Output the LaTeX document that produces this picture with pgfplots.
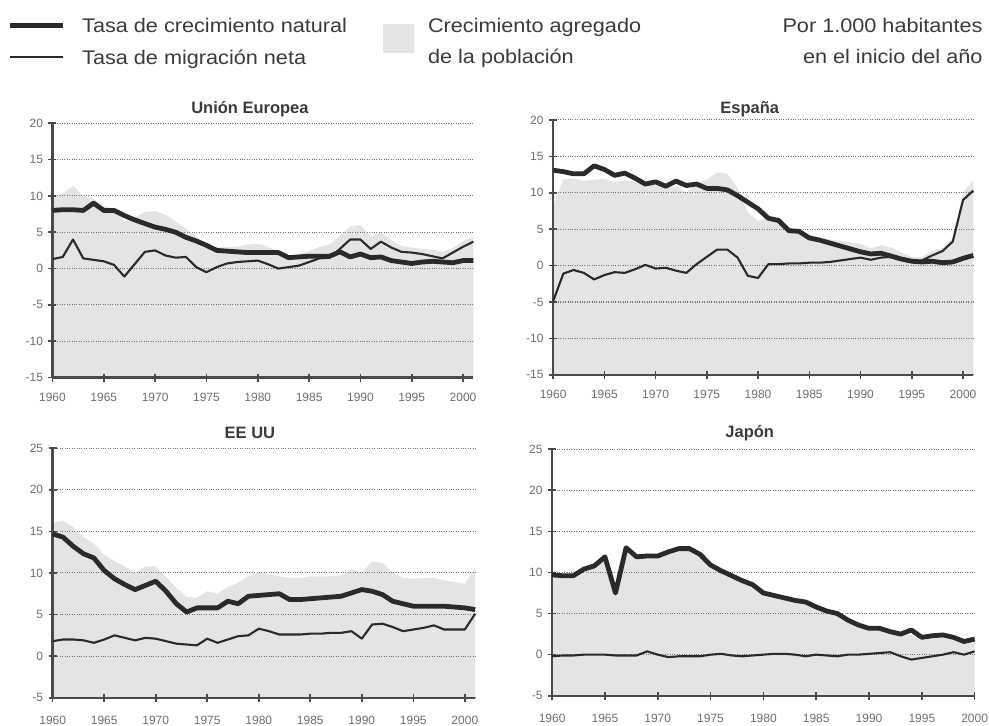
\documentclass[border=0pt]{standalone}
\usepackage{fontspec}
\setmainfont{Liberation Sans}
\newfontfamily\legfont[FakeStretch=1.1]{Liberation Sans}
\usepackage{pgfplots}
\usepackage{pgfplotstable}
\pgfplotsset{compat=1.18}

\definecolor{shadecol}{HTML}{E4E4E4}
\definecolor{linecol}{HTML}{2A2A2A}
\definecolor{axiscol}{HTML}{4A4A4A}
\definecolor{labcol}{HTML}{6E6E6E}
\definecolor{txtcol}{HTML}{3A3A3A}

% year  natural  migration
\pgfplotstableread{
year nat mig
1960 8.0 1.3
1961 8.1 1.6
1962 8.1 4.0
1963 8.0 1.4
1964 9.0 1.2
1965 8.0 1.0
1966 8.0 0.5
1967 7.3 -1.1
1968 6.7 0.6
1969 6.2 2.3
1970 5.7 2.5
1971 5.4 1.8
1972 5.0 1.5
1973 4.3 1.6
1974 3.8 0.2
1975 3.2 -0.5
1976 2.5 0.2
1977 2.4 0.7
1978 2.3 0.9
1979 2.2 1.0
1980 2.2 1.1
1981 2.2 0.6
1982 2.2 0.0
1983 1.5 0.2
1984 1.6 0.4
1985 1.7 0.9
1986 1.7 1.4
1987 1.7 1.5
1988 2.3 2.7
1989 1.6 4.0
1990 2.0 4.0
1991 1.5 2.7
1992 1.6 3.7
1993 1.1 2.9
1994 0.9 2.3
1995 0.7 2.2
1996 0.9 2.0
1997 1.0 1.7
1998 0.9 1.4
1999 0.8 2.2
2000 1.1 3.0
2001 1.1 3.7
}\ue

\pgfplotstableread{
year nat mig
1960 13.1 -4.9
1961 12.9 -1.1
1962 12.6 -0.6
1963 12.6 -1.0
1964 13.7 -1.9
1965 13.2 -1.3
1966 12.4 -0.9
1967 12.7 -1.0
1968 12.0 -0.5
1969 11.2 0.1
1970 11.5 -0.4
1971 10.9 -0.3
1972 11.6 -0.7
1973 11.0 -1.0
1974 11.2 0.2
1975 10.6 1.2
1976 10.6 2.2
1977 10.4 2.2
1978 9.6 1.1
1979 8.7 -1.4
1980 7.8 -1.7
1981 6.5 0.2
1982 6.2 0.2
1983 4.8 0.3
1984 4.7 0.3
1985 3.8 0.4
1986 3.5 0.4
1987 3.1 0.5
1988 2.7 0.7
1989 2.3 0.9
1990 1.9 1.1
1991 1.6 0.8
1992 1.7 1.1
1993 1.3 1.2
1994 0.9 0.9
1995 0.6 0.6
1996 0.5 0.7
1997 0.6 1.4
1998 0.4 2.0
1999 0.5 3.3
2000 1.0 9.0
2001 1.4 10.3
}\es

\pgfplotstableread{
year nat mig
1960 14.7 1.8
1961 14.3 2.0
1962 13.2 2.0
1963 12.3 1.9
1964 11.8 1.6
1965 10.3 2.0
1966 9.3 2.5
1967 8.6 2.2
1968 8.0 1.9
1969 8.5 2.2
1970 9.0 2.1
1971 7.8 1.8
1972 6.3 1.5
1973 5.3 1.4
1974 5.8 1.3
1975 5.8 2.1
1976 5.8 1.6
1977 6.6 2.0
1978 6.3 2.4
1979 7.2 2.5
1980 7.3 3.3
1981 7.4 3.0
1982 7.5 2.6
1983 6.8 2.6
1984 6.8 2.6
1985 6.9 2.7
1986 7.0 2.7
1987 7.1 2.8
1988 7.2 2.8
1989 7.6 3.0
1990 8.0 2.1
1991 7.8 3.8
1992 7.4 3.9
1993 6.6 3.5
1994 6.3 3.0
1995 6.0 3.2
1996 6.0 3.4
1997 6.0 3.7
1998 6.0 3.2
1999 5.9 3.2
2000 5.8 3.2
2001 5.6 5.1
}\us

\pgfplotstableread{
year nat mig
1960 9.7 -0.2
1961 9.6 -0.1
1962 9.6 -0.1
1963 10.4 0.0
1964 10.8 0.0
1965 11.9 0.0
1966 7.5 -0.1
1967 13.0 -0.1
1968 11.9 -0.1
1969 12.0 0.4
1970 12.0 0.0
1971 12.5 -0.3
1972 12.9 -0.2
1973 12.9 -0.2
1974 12.2 -0.2
1975 10.9 0.0
1976 10.2 0.1
1977 9.6 -0.1
1978 9.0 -0.2
1979 8.5 -0.1
1980 7.5 0.0
1981 7.2 0.1
1982 6.9 0.1
1983 6.6 0.0
1984 6.4 -0.2
1985 5.8 0.0
1986 5.3 -0.1
1987 5.0 -0.2
1988 4.2 0.0
1989 3.6 0.0
1990 3.2 0.1
1991 3.2 0.2
1992 2.8 0.3
1993 2.5 -0.2
1994 3.0 -0.6
1995 2.1 -0.4
1996 2.3 -0.2
1997 2.4 0.0
1998 2.1 0.3
1999 1.6 0.0
2000 1.9 0.4
}\jp

\pgfplotsset{
  panel/.style={
    scale only axis,
    set layers=standard,
    axis lines*=left,
    axis line style={draw=axiscol, line width=2.4pt},
    tick style={draw=axiscol, line width=1.6pt},
    major tick length=8pt,
    tick align=center,
    xmin=1960, xmax=2001,
    xtick={1960,1965,...,2000},
    ymajorgrids,
    grid style={draw=black!55, dotted, line width=1.1pt},
    enlargelimits=false,
    clip=false,
    /pgf/number format/assume math mode=true,
    /pgf/number format/1000 sep={},
    tick label style={font=\fontsize{12}{12}\selectfont, text=labcol},
    xticklabel style={yshift=-8pt},
    yticklabel style={xshift=-2pt},
  },
  natline/.style={draw=linecol, line width=4.8pt, line join=round},
  migline/.style={draw=linecol, line width=2.1pt, line join=round},
  shade/.style={fill=shadecol, draw=none, on layer=axis background},
}

\begin{document}
\begin{tikzpicture}
\path (0pt,0pt) rectangle (989pt,720pt);

% ---------- Legend ----------
\draw[linecol, line width=5pt] (10pt,694pt) -- (63pt,694pt);
\draw[linecol, line width=2.5pt] (10pt,663pt) -- (63pt,663pt);
\node[anchor=base west, text=txtcol, inner sep=0pt] at (82pt,687pt) {\legfont\fontsize{19.7}{22}\selectfont Tasa de crecimiento natural};
\node[anchor=base west, text=txtcol, inner sep=0pt] at (82pt,655pt) {\legfont\fontsize{19.7}{22}\selectfont Tasa de migración neta};
\fill[shadecol] (383pt,667pt) rectangle (414pt,696pt);
\node[anchor=base west, text=txtcol, inner sep=0pt] at (428pt,687pt) {\legfont\fontsize{19.7}{22}\selectfont Crecimiento agregado};
\node[anchor=base west, text=txtcol, inner sep=0pt] at (428pt,656pt) {\legfont\fontsize{19.7}{22}\selectfont de la población};
\node[anchor=base east, text=txtcol, inner sep=0pt] at (983pt,687pt) {\legfont\fontsize{19.7}{22}\selectfont Por 1.000 habitantes};
\node[anchor=base east, text=txtcol, inner sep=0pt] at (983pt,656pt) {\legfont\fontsize{19.7}{22}\selectfont en el inicio del año};

% ---------- Titles ----------
\node[anchor=base, text=txtcol, inner sep=0pt] at (250pt,606pt) {\bfseries\fontsize{16.5}{18}\selectfont Unión Europea};
\node[anchor=base, text=txtcol, inner sep=0pt] at (750pt,606pt) {\bfseries\fontsize{16.5}{18}\selectfont España};
\node[anchor=base, text=txtcol, inner sep=0pt] at (250pt,281pt) {\bfseries\fontsize{16.5}{18}\selectfont EE UU};
\node[anchor=base, text=txtcol, inner sep=0pt] at (750pt,282pt) {\bfseries\fontsize{16.5}{18}\selectfont Japón};

% ---------- Unión Europea ----------
\begin{axis}[panel, at={(52.5pt,342.3pt)}, anchor=south west, width=421pt, height=254.4pt,
  ymin=-15, ymax=20, ytick={-15,-10,...,20}]
\addplot[shade] coordinates {(1960,-15) (1960,10.0) (1961,10.3) (1962,11.4) (1963,10.0) (1964,9.6)
 (1965,8.6) (1966,8.2) (1967,6.5) (1968,7.0) (1969,7.8) (1970,7.9) (1971,7.4) (1972,6.5) (1973,5.5)
 (1974,4.4) (1975,3.3) (1976,2.9) (1977,3.0) (1978,3.0) (1979,3.3) (1980,3.4) (1981,3.0) (1982,2.4)
 (1983,1.8) (1984,2.0) (1985,2.4) (1986,3.0) (1987,3.3) (1988,4.5) (1989,5.8) (1990,6.0) (1991,4.3)
 (1992,5.0) (1993,3.9) (1994,3.1) (1995,2.9) (1996,2.7) (1997,2.6) (1998,2.3) (1999,2.8) (2000,3.8)
 (2001,4.4) (2001,-15)};
\addplot[migline] table[x=year,y=mig] {\ue};
\addplot[natline] table[x=year,y=nat] {\ue};
\end{axis}

% ---------- España ----------
\begin{axis}[panel, at={(553.3pt,345pt)}, anchor=south west, width=420.3pt, height=255pt,
  ymin=-15, ymax=20, ytick={-15,-10,...,20}]
\addplot[shade] coordinates {(1960,-15) (1960,8.2) (1961,11.8) (1962,12.0) (1963,11.6) (1964,11.8)
 (1965,11.9) (1966,11.5) (1967,11.7) (1968,11.5) (1969,11.3) (1970,11.1) (1971,10.6) (1972,10.9)
 (1973,10.0) (1974,11.4) (1975,11.8) (1976,12.8) (1977,12.6) (1978,10.7) (1979,7.3) (1980,6.1)
 (1981,6.7) (1982,6.4) (1983,5.1) (1984,5.0) (1985,4.2) (1986,3.9) (1987,3.6) (1988,3.4) (1989,3.2)
 (1990,3.0) (1991,2.4) (1992,2.8) (1993,2.5) (1994,1.8) (1995,1.2) (1996,1.2) (1997,2.0) (1998,2.4)
 (1999,3.8) (2000,10.0) (2001,11.7) (2001,-15)};
\addplot[migline] table[x=year,y=mig] {\es};
\addplot[natline] table[x=year,y=nat] {\es};
\end{axis}

% ---------- EE UU ----------
\begin{axis}[panel, at={(52.7pt,22pt)}, anchor=south west, width=422.6pt, height=249.7pt,
  ymin=-5, ymax=25, ytick={-5,0,...,25}, xticklabel style={yshift=-5pt, inner sep=1pt}]
\addplot[shade] coordinates {(1960,-5) (1960,16.0) (1961,16.3) (1962,15.5) (1963,14.3) (1964,13.5)
 (1965,12.2) (1966,11.4) (1967,10.8) (1968,10.0) (1969,10.8) (1970,10.8) (1971,9.5) (1972,8.2)
 (1973,7.1) (1974,7.0) (1975,7.8) (1976,7.5) (1977,8.3) (1978,8.8) (1979,9.6) (1980,10.1) (1981,9.8)
 (1982,9.6) (1983,9.4) (1984,9.4) (1985,9.6) (1986,9.6) (1987,9.6) (1988,9.7) (1989,10.4) (1990,10.1)
 (1991,11.4) (1992,11.2) (1993,10.1) (1994,9.4) (1995,9.3) (1996,9.4) (1997,9.4) (1998,9.1)
 (1999,8.9) (2000,8.7) (2001,10.6) (2001,-5)};
\addplot[migline] table[x=year,y=mig] {\us};
\addplot[natline] table[x=year,y=nat] {\us};
\end{axis}

% ---------- Japón ----------
\begin{axis}[panel, at={(552.3pt,24pt)}, anchor=south west, width=422.7pt, height=246.7pt,
  xmax=2000, ymin=-5, ymax=25, ytick={-5,0,...,25}, xticklabel style={yshift=-5pt, inner sep=1pt}]
\addplot[shade] coordinates {(1960,-5) (1960,9.5) (1961,9.5) (1962,9.5) (1963,10.4) (1964,10.8)
 (1965,11.9) (1966,7.4) (1967,12.9) (1968,11.8) (1969,12.4) (1970,12.0) (1971,12.2) (1972,12.7)
 (1973,12.7) (1974,12.0) (1975,10.9) (1976,10.3) (1977,9.5) (1978,8.8) (1979,8.4) (1980,7.5)
 (1981,7.3) (1982,7.0) (1983,6.6) (1984,6.2) (1985,5.8) (1986,5.2) (1987,4.8) (1988,4.2) (1989,3.6)
 (1990,3.3) (1991,3.4) (1992,3.1) (1993,2.3) (1994,2.4) (1995,1.7) (1996,2.1) (1997,2.4) (1998,2.4)
 (1999,1.6) (2000,2.3) (2000,-5)};
\addplot[migline] table[x=year,y=mig] {\jp};
\addplot[natline] table[x=year,y=nat] {\jp};
\end{axis}
\end{tikzpicture}
\end{document}
